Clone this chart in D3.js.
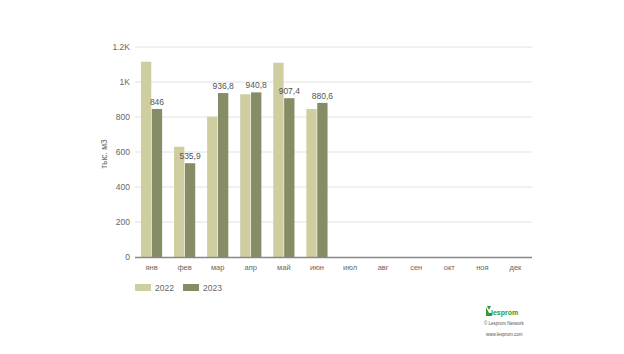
<!DOCTYPE html>
<html><head><meta charset="utf-8">
<script src="https://cdn.jsdelivr.net/npm/d3@7"></script>
<style>body{margin:0;background:#fff;font-family:Arial,"Liberation Sans",sans-serif}</style>
</head><body><svg id="c" width="624" height="354"></svg>
<script>
const months = ["янв","фев","мар","апр","май","июн","июл","авг","сен","окт","ноя","дек"];
const series2022 = [1116, 630, 802, 930, 1110, 846, null, null, null, null, null, null];
const series2023 = [846, 535.9, 936.8, 940.8, 907.4, 880.6, null, null, null, null, null, null];
const labels2023 = ["846","535,9","936,8","940,8","907,4","880,6"];
const yTicks = [0,200,400,600,800,1000,1200];
const yTickLabels = ["0","200","400","600","800","1K","1.2K"];
const seriesNames = ["2022","2023"];
const colors = ["#cfcea0","#868d66"];

const svg = d3.select("#c");
const m = {l:135, r:532, t:47, b:257};
const x = d3.scaleBand().domain(months).range([m.l, m.r]).paddingInner(0.36).paddingOuter(0.18);
const xs = d3.scaleBand().domain(seriesNames).range([0, x.bandwidth()]).paddingInner(0.05);
const y = d3.scaleLinear().domain([0,1200]).range([m.b, m.t]);

// grid
svg.append("g").selectAll("line").data(yTicks.slice(1)).join("line")
  .attr("x1", m.l).attr("x2", m.r).attr("y1", d=>y(d)).attr("y2", d=>y(d))
  .attr("stroke","#e2e2e2").attr("stroke-width",1);
// y labels
svg.append("g").selectAll("text").data(yTicks).join("text")
  .attr("x", m.l-5).attr("y", d=>y(d)+3).attr("text-anchor","end")
  .attr("font-size",8.5).attr("fill","#666").text((d,i)=>yTickLabels[i]);
// y title
svg.append("text").attr("transform",`translate(107,${(m.t+m.b)/2+2}) rotate(-90)`)
  .attr("text-anchor","middle").attr("font-size",8.5).attr("fill","#666").text("тыс. м3");

const data = [series2022, series2023];
data.forEach((s,si)=>{
  svg.append("g").selectAll("rect").data(months.map((mo,i)=>({mo, v:s[i]})).filter(d=>d.v!=null)).join("rect")
    .attr("x", d=>x(d.mo)+xs(seriesNames[si])).attr("width", xs.bandwidth())
    .attr("y", d=>y(d.v)).attr("height", d=>y(0)-y(d.v)).attr("fill", colors[si]);
});
// labels for 2023
svg.append("g").selectAll("text").data(labels2023).join("text")
  .attr("x",(d,i)=>x(months[i])+xs("2023")+xs.bandwidth()/2)
  .attr("y",(d,i)=>y(series2023[i])-4).attr("text-anchor","middle")
  .attr("font-size",8.5).attr("fill","#555").text(d=>d);

// x axis
svg.append("line").attr("x1",m.l).attr("x2",m.r).attr("y1",m.b+0.5).attr("y2",m.b+0.5)
  .attr("stroke","#888").attr("stroke-width",1.5);
svg.append("g").selectAll("text").data(months).join("text")
  .attr("x", d=>x(d)+x.bandwidth()/2).attr("y", m.b+13).attr("text-anchor","middle")
  .attr("font-size",7.5).attr("fill","#666").text(d=>d);

// legend
const lg = svg.append("g");
seriesNames.forEach((n,i)=>{
  const lx = 135 + i*48;
  lg.append("rect").attr("x",lx).attr("y",284).attr("width",16).attr("height",7).attr("fill",colors[i]);
  lg.append("text").attr("x",lx+20).attr("y",291).attr("font-size",8.5).attr("fill","#666").text(n);
});

// logo
const lo = svg.append("g");
lo.append("path").attr("d","M486,307 L486,316 L492,316 L492,313 L489,313 Z M487,306 L491,306 L489,310 Z").attr("fill","#2e9a3c");
lo.append("text").attr("x",491).attr("y",315).attr("font-size",7).attr("fill","#2e9a3c").attr("font-weight","bold").text("lesprom");
lo.append("text").attr("x",484).attr("y",325).attr("font-size",4.5).attr("fill","#555").text("© Lesprom Network");
lo.append("text").attr("x",486).attr("y",336).attr("font-size",4.5).attr("fill","#555").text("www.lesprom.com");
</script></body></html>
